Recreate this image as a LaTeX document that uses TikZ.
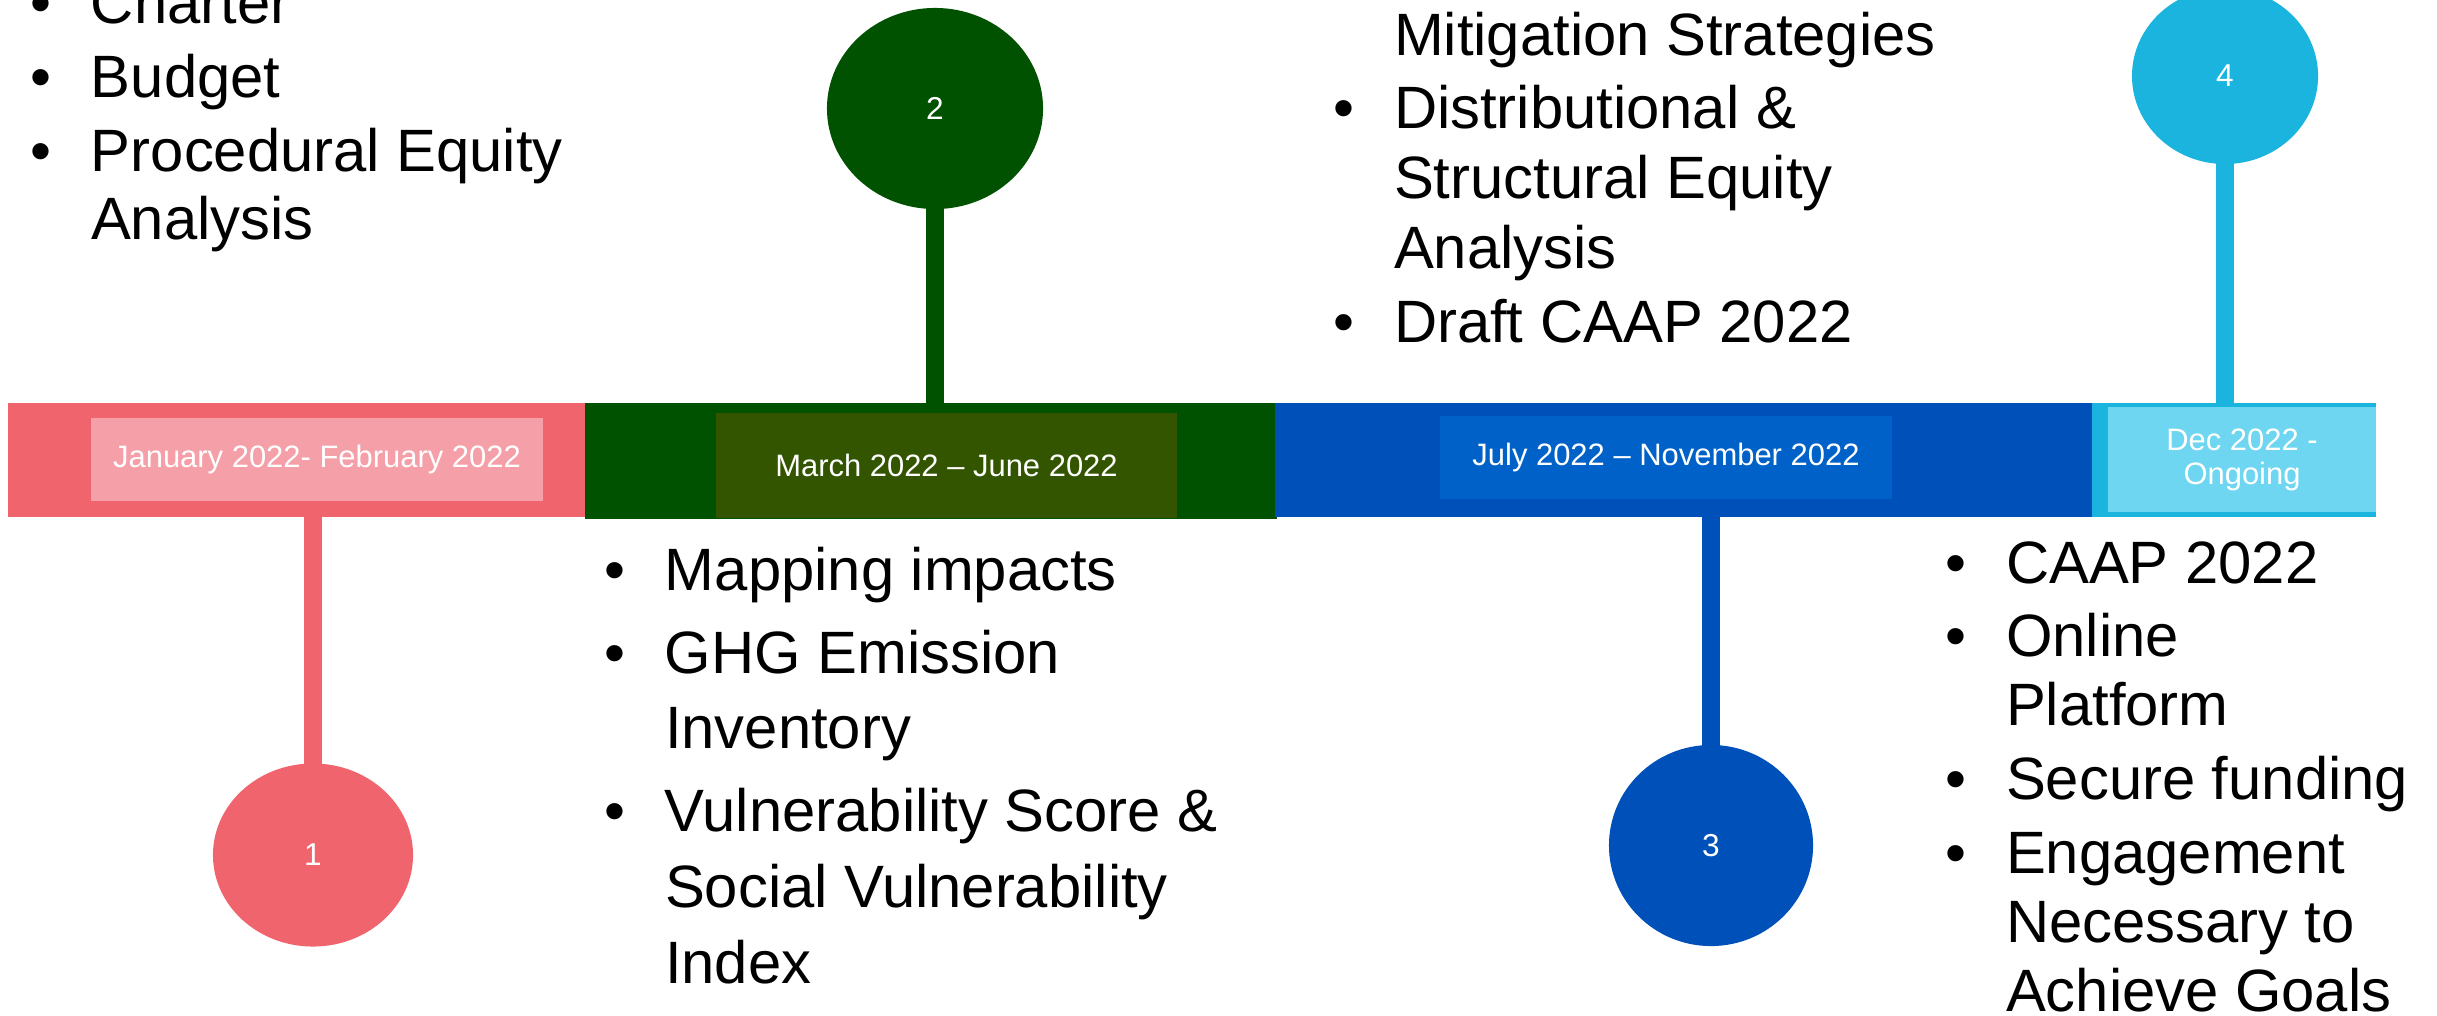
\documentclass[tikz,border=0pt]{standalone}
\usepackage{fontspec}
\setmainfont{Liberation Sans}
\usetikzlibrary{shapes.geometric}
\pgfdeclarelayer{background}
\pgfsetlayers{background,main}
\definecolor{pinkC}{HTML}{F0646E}
\definecolor{pinkL}{HTML}{F5A0A8}
\definecolor{greenC}{HTML}{005200}
\definecolor{greenL}{HTML}{335500}
\definecolor{blueC}{HTML}{0050BA}
\definecolor{blueL}{HTML}{0062C8}
\definecolor{cyanC}{HTML}{1AB4DE}
\definecolor{cyanL}{HTML}{6ED6F0}
\newcommand\bul{\leavevmode\llap{\textbullet\hspace{0.395cm}}}
\newcommand\mklist[3]{\vtop{\hsize=12cm\parindent=0pt\parskip=0pt\baselineskip=#1\lineskiplimit=-30pt\relax
  \def\bx{\par\vskip#2\relax\bul}\def\nx{\par}#3\par}}
\tikzset{
  barseg/.style={inner sep=0pt, outer sep=0pt, anchor=north west},
  datebox/.style={inner sep=0pt, outer sep=0pt, text=white, font=\fontsize{8.8pt}{9.7pt}\selectfont, align=center},
  stepdot/.style={ellipse, inner sep=0pt, outer sep=0pt, text=white, font=\fontsize{9pt}{10pt}\selectfont},
  stem/.style={line width=0.18cm},
  listtxt/.style={inner sep=0pt, outer sep=0pt, anchor=base west, font=\fontsize{17pt}{19pt}\selectfont}
}
\begin{document}
\begin{tikzpicture}[x=0.01cm, y=-0.01cm]
\useasboundingbox (0,0) rectangle (2437,1015);
\clip (0,0) rectangle (2437,1015);
% timeline bar segments
\node[barseg, fill=pinkC, minimum width=5.77cm, minimum height=1.14cm] (b1) at (8,403) {};
\node[barseg, fill=greenC, minimum width=6.92cm, minimum height=1.16cm] (b2) at (585,403) {};
\node[barseg, fill=blueC, minimum width=8.17cm, minimum height=1.14cm] (b3) at (1275,403) {};
\node[barseg, fill=cyanC, minimum width=2.84cm, minimum height=1.14cm] (b4) at (2092,403) {};
% date boxes
\node[datebox, fill=pinkL, minimum width=4.52cm, minimum height=0.83cm] (d1) at (317,459.5) {January 2022- February 2022};
\node[datebox, fill=greenL, minimum width=4.61cm, minimum height=1.05cm] (d2) at (946.5,465.5) {March 2022 – June 2022};
\node[datebox, fill=blueL, minimum width=4.52cm, minimum height=0.83cm] (d3) at (1666,457.5) {July 2022 – November 2022};
\node[datebox, fill=cyanL, minimum width=2.68cm, minimum height=1.05cm] (d4) at (2242,459.5) {Dec 2022 -\\Ongoing};
% milestone circles
\node[stepdot, fill=pinkC, minimum width=2.00cm, minimum height=1.83cm] (c1) at (313,855) {1};
\node[stepdot, fill=greenC, minimum width=2.16cm, minimum height=2.01cm] (c2) at (935,108.5) {2};
\node[stepdot, fill=blueC, minimum width=2.04cm, minimum height=2.01cm] (c3) at (1711,845.5) {3};
\node[stepdot, fill=cyanC, minimum width=1.86cm, minimum height=1.76cm] (c4) at (2225,76) {4};
% stems
\begin{pgfonlayer}{background}
\draw[stem, pinkC] (c1.center) -- (c1.center |- b1.center);
\draw[stem, greenC] (c2.center) -- (c2.center |- b2.center);
\draw[stem, blueC] (c3.center) -- (c3.center |- b3.center);
\draw[stem, cyanC] (c4.center) -- (c4.center |- b4.center);
\end{pgfonlayer}
% lists
\node[listtxt] (l1) at (91,23) {\mklist{19.35pt}{1.7pt}{\bul Charter\bx Budget\bx Procedural Equity\nx Analysis}};
\node[listtxt] (l2) at (665,590) {\mklist{21.6pt}{2pt}{\bul Mapping impacts\bx GHG Emission\nx Inventory\bx Vulnerability Score \&\nx Social Vulnerability\nx Index}};
\node[listtxt] (l3) at (1394,55) {\mklist{19.9pt}{1.1pt}{Mitigation Strategies\bx Distributional \&\nx Structural Equity\nx Analysis\bx Draft CAAP 2022}};
\node[listtxt] (l4) at (2006,583) {\mklist{19.6pt}{1.4pt}{\bul CAAP 2022\bx Online\nx Platform\bx Secure funding\bx Engagement\nx Necessary to\nx Achieve Goals}};
\end{tikzpicture}
\end{document}
